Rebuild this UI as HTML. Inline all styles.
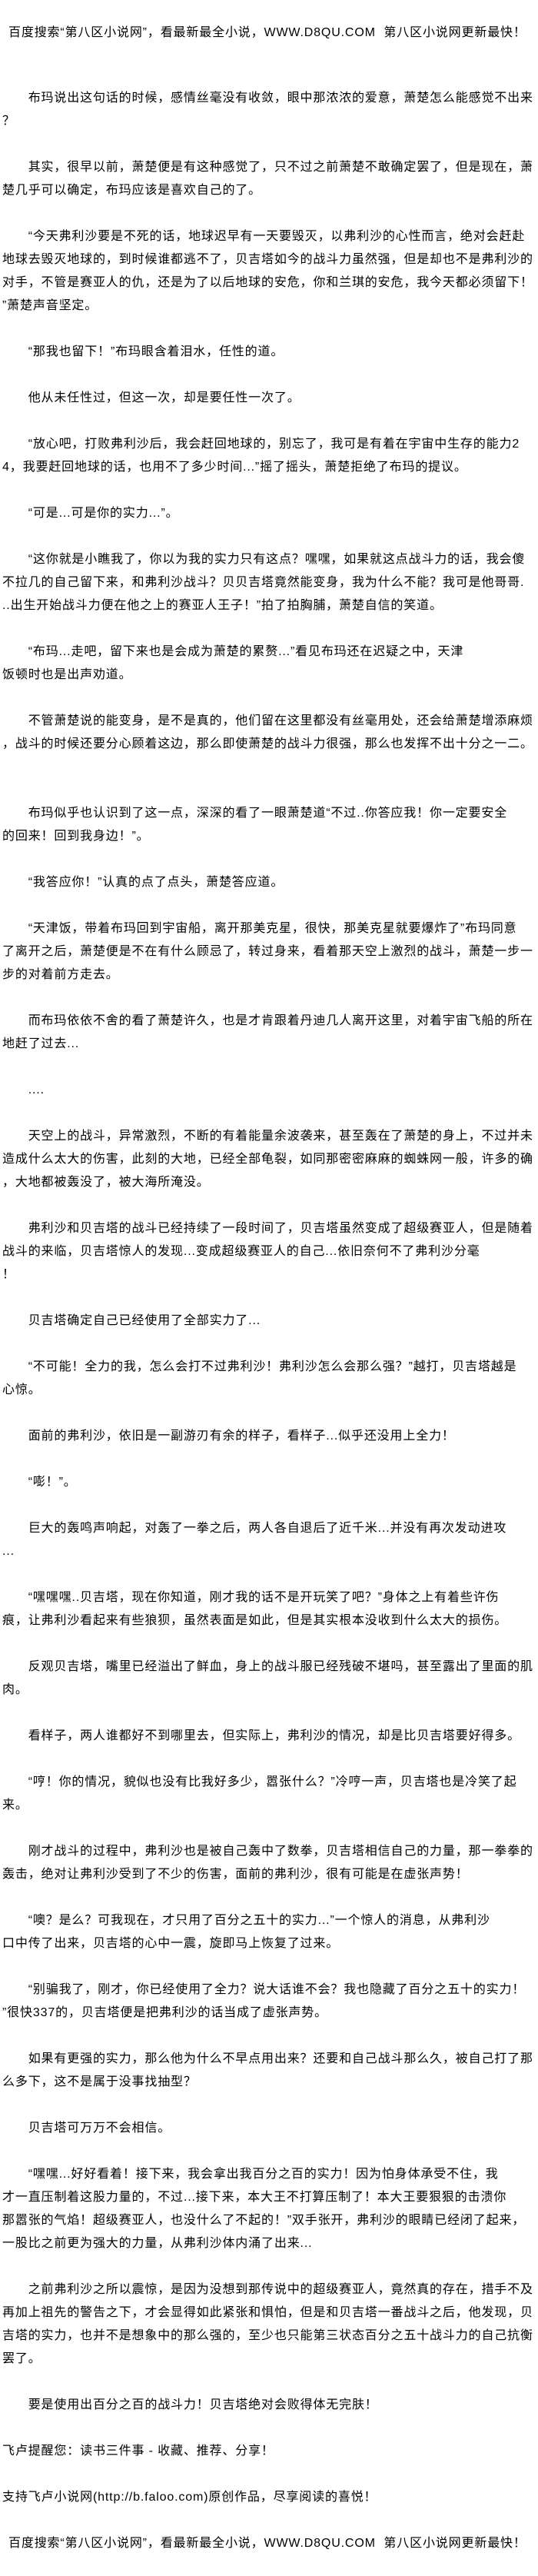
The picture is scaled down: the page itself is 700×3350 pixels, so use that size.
<!DOCTYPE html>
<html><head><meta charset="utf-8">
<style>
html,body{margin:0;padding:0;background:#fff;}
body{width:700px;height:3350px;position:relative;overflow:hidden;}
.t{position:absolute;left:3px;margin:0;white-space:pre;font-family:"Liberation Sans","WenQuanYi Zen Hei","Noto Sans CJK SC",sans-serif;font-size:16px;letter-spacing:0.85px;line-height:30px;color:#000;}
</style></head><body>
<div class="t" style="top:28px;left:11px;">百度搜索“第八区小说网”，看最新最全小说，WWW.D8QU.COM  第八区小说网更新最快！</div>
<div class="t" style="top:113px;">　　布玛说出这句话的时候，感情丝毫没有收敛，眼中那浓浓的爱意，萧楚怎么能感觉不出来
？

　　其实，很早以前，萧楚便是有这种感觉了，只不过之前萧楚不敢确定罢了，但是现在，萧
楚几乎可以确定，布玛应该是喜欢自己的了。

　　“今天弗利沙要是不死的话，地球迟早有一天要毁灭，以弗利沙的心性而言，绝对会赶赴
地球去毁灭地球的，到时候谁都逃不了，贝吉塔如今的战斗力虽然强，但是却也不是弗利沙的
对手，不管是赛亚人的仇，还是为了以后地球的安危，你和兰琪的安危，我今天都必须留下！
”萧楚声音坚定。

　　“那我也留下！”布玛眼含着泪水，任性的道。

　　他从未任性过，但这一次，却是要任性一次了。

　　“放心吧，打败弗利沙后，我会赶回地球的，别忘了，我可是有着在宇宙中生存的能力2
4，我要赶回地球的话，也用不了多少时间...”摇了摇头，萧楚拒绝了布玛的提议。

　　“可是...可是你的实力...”。

　　“这你就是小瞧我了，你以为我的实力只有这点？嘿嘿，如果就这点战斗力的话，我会傻
不拉几的自己留下来，和弗利沙战斗？贝贝吉塔竟然能变身，我为什么不能？我可是他哥哥.
..出生开始战斗力便在他之上的赛亚人王子！”拍了拍胸脯，萧楚自信的笑道。

　　“布玛...走吧，留下来也是会成为萧楚的累赘...”看见布玛还在迟疑之中，天津
饭顿时也是出声劝道。

　　不管萧楚说的能变身，是不是真的，他们留在这里都没有丝毫用处，还会给萧楚增添麻烦
，战斗的时候还要分心顾着这边，那么即使萧楚的战斗力很强，那么也发挥不出十分之一二。


　　布玛似乎也认识到了这一点，深深的看了一眼萧楚道“不过..你答应我！你一定要安全
的回来！回到我身边！”。

　　“我答应你！”认真的点了点头，萧楚答应道。

　　“天津饭，带着布玛回到宇宙船，离开那美克星，很快，那美克星就要爆炸了”布玛同意
了离开之后，萧楚便是不在有什么顾忌了，转过身来，看着那天空上激烈的战斗，萧楚一步一
步的对着前方走去。

　　而布玛依依不舍的看了萧楚许久，也是才肯跟着丹迪几人离开这里，对着宇宙飞船的所在
地赶了过去...

　　....

　　天空上的战斗，异常激烈，不断的有着能量余波袭来，甚至轰在了萧楚的身上，不过并未
造成什么太大的伤害，此刻的大地，已经全部龟裂，如同那密密麻麻的蜘蛛网一般，许多的确
，大地都被轰没了，被大海所淹没。

　　弗利沙和贝吉塔的战斗已经持续了一段时间了，贝吉塔虽然变成了超级赛亚人，但是随着
战斗的来临，贝吉塔惊人的发现...变成超级赛亚人的自己...依旧奈何不了弗利沙分毫
！

　　贝吉塔确定自己已经使用了全部实力了...

　　“不可能！全力的我，怎么会打不过弗利沙！弗利沙怎么会那么强？”越打，贝吉塔越是
心惊。

　　面前的弗利沙，依旧是一副游刃有余的样子，看样子...似乎还没用上全力！

　　“嘭！”。

　　巨大的轰鸣声响起，对轰了一拳之后，两人各自退后了近千米...并没有再次发动进攻
...

　　“嘿嘿嘿..贝吉塔，现在你知道，刚才我的话不是开玩笑了吧？”身体之上有着些许伤
痕，让弗利沙看起来有些狼狈，虽然表面是如此，但是其实根本没收到什么太大的损伤。

　　反观贝吉塔，嘴里已经溢出了鲜血，身上的战斗服已经残破不堪吗，甚至露出了里面的肌
肉。

　　看样子，两人谁都好不到哪里去，但实际上，弗利沙的情况，却是比贝吉塔要好得多。

　　“哼！你的情况，貌似也没有比我好多少，嚣张什么？”冷哼一声，贝吉塔也是冷笑了起
来。

　　刚才战斗的过程中，弗利沙也是被自己轰中了数拳，贝吉塔相信自己的力量，那一拳拳的
轰击，绝对让弗利沙受到了不少的伤害，面前的弗利沙，很有可能是在虚张声势！

　　“噢？是么？可我现在，才只用了百分之五十的实力...”一个惊人的消息，从弗利沙
口中传了出来，贝吉塔的心中一震，旋即马上恢复了过来。

　　“别骗我了，刚才，你已经使用了全力？说大话谁不会？我也隐藏了百分之五十的实力！
”很快337的，贝吉塔便是把弗利沙的话当成了虚张声势。

　　如果有更强的实力，那么他为什么不早点用出来？还要和自己战斗那么久，被自己打了那
么多下，这不是属于没事找抽型？

　　贝吉塔可万万不会相信。

　　“嘿嘿...好好看着！接下来，我会拿出我百分之百的实力！因为怕身体承受不住，我
才一直压制着这股力量的，不过...接下来，本大王不打算压制了！本大王要狠狠的击溃你
那嚣张的气焰！超级赛亚人，也没什么了不起的！”双手张开，弗利沙的眼睛已经闭了起来，
一股比之前更为强大的力量，从弗利沙体内涌了出来...

　　之前弗利沙之所以震惊，是因为没想到那传说中的超级赛亚人，竟然真的存在，措手不及
再加上祖先的警告之下，才会显得如此紧张和惧怕，但是和贝吉塔一番战斗之后，他发现，贝
吉塔的实力，也并不是想象中的那么强的，至少也只能第三状态百分之五十战斗力的自己抗衡
罢了。

　　要是使用出百分之百的战斗力！贝吉塔绝对会败得体无完肤！

飞卢提醒您：读书三件事 - 收藏、推荐、分享！

支持飞卢小说网(http://b.faloo.com)原创作品，尽享阅读的喜悦！

</div>
<div class="t" style="top:3293px;left:11px;">百度搜索“第八区小说网”，看最新最全小说，WWW.D8QU.COM  第八区小说网更新最快！</div>
</body></html>
